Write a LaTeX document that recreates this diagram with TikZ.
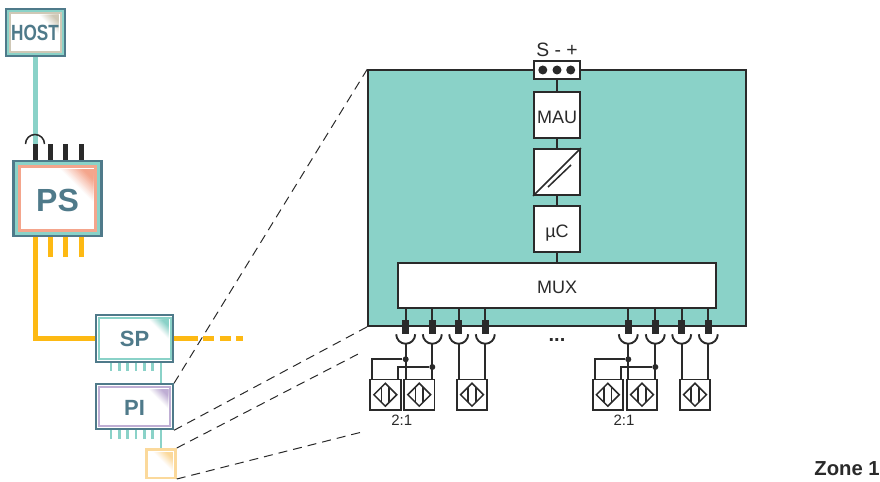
\documentclass[tikz,border=0pt]{standalone}
\usepackage{fontspec}
\setmainfont{Liberation Sans}
\usetikzlibrary{calc, positioning, shapes.geometric}
\definecolor{slate}{HTML}{4F7A8A}
\definecolor{tealfill}{HTML}{8AD2C8}
\definecolor{salmon}{HTML}{F4A58C}
\definecolor{busyellow}{HTML}{FDB913}
\definecolor{lilac}{HTML}{BFAED4}
\definecolor{paleorange}{HTML}{FBD99B}
\definecolor{beige}{HTML}{CFC8B6}
\definecolor{ink}{HTML}{2A2A2A}
\newcommand{\px}{0.75pt}
\newcommand{\cornerfade}[3]{%
  \foreach \s in {100,95,...,5} {
    \pgfmathsetmacro{\mixval}{min(100,1.5*(100-\s))}
    \fill[#3!\mixval!white] #1 -- ++(-#2*\s/100,0) -- ++(#2*\s/100,#2*\s/100) -- cycle;
  }
}
\tikzset{
  frame/.style={rectangle, inner sep=0pt, fill=white, line width=2*\px},
  block/.style={rectangle, draw=ink, fill=white, line width=1.9*\px, inner sep=0pt, text=ink,
    text height=12.7pt, text depth=0pt,
    minimum width=46*\px, minimum height=46*\px, font=\fontsize{13.5pt}{15pt}\selectfont},
  wire/.style={draw=ink, line width=1.9*\px},
  teal stub/.style={draw=tealfill, line width=2.6*\px},
  bus/.style={draw=busyellow, line width=5*\px},
  zoomline/.style={draw=ink, line width=1*\px, dash pattern=on 9*\px off 6*\px},
  jackport/.style={rectangle, fill=ink, inner sep=0pt, minimum width=7*\px, minimum height=14*\px},
  sensorbox/.style={rectangle, draw=ink, fill=white, line width=1.9*\px, inner sep=0pt,
    minimum width=30.5*\px, minimum height=30.5*\px},
  sensormark/.style={diamond, draw=ink, line width=1.5*\px, inner sep=0pt, minimum size=23.5*\px},
  joint/.style={circle, fill=ink, inner sep=0pt, minimum size=6*\px},
  logo/.style={text=slate, inner sep=0pt, font=\bfseries}
}

\begin{document}
\begin{tikzpicture}[x=0.75pt, y=-0.75pt]
\useasboundingbox (0,0) rectangle (880,481);

% Zoom lines behind everything
\node[rectangle, draw=ink, fill=tealfill, line width=1.5*\px, inner sep=0pt,
  minimum width=378*\px, minimum height=256*\px] (main) at (557,198) {};
\coordinate (freea) at (362,352);
\coordinate (freeb) at (362,432);

% Host
\node[frame, draw=slate, minimum width=59*\px, minimum height=47*\px] (host) at (35,32.5) {};
\node[frame, draw=tealfill, minimum width=55*\px, minimum height=43*\px] (hostb) at (host) {};
\node[frame, draw=beige, minimum width=51*\px, minimum height=39*\px] (hostc) at (host) {};
\cornerfade{($(hostc.north east)+(-3,3)$)}{20}{beige}
\node[logo, xscale=0.78, font=\bfseries\fontsize{16.5pt}{18pt}\selectfont] (hostlabel) at (35,33) {HOST};

% Power supply
\foreach \x [count=\i] in {35,50.7,65.7,81} {
  \coordinate (ptop\i) at (\x,144);
  \coordinate (pbot\i) at (\x,257);
}
\node[frame, draw=slate, line width=2.5*\px, minimum width=88*\px, minimum height=75*\px] (ps) at (57.5,198.3) {};
\node[frame, draw=tealfill, line width=3*\px, minimum width=82.5*\px, minimum height=69.5*\px] (psb) at (ps) {};
\node[frame, draw=salmon, line width=3*\px, minimum width=76.5*\px, minimum height=63.5*\px] (psc) at (ps) {};
\cornerfade{($(psc.north east)+(-4,4)$)}{34}{salmon}
\node[logo, font=\bfseries\fontsize{24pt}{26pt}\selectfont] (pslabel) at (57.5,200) {PS};
\draw[draw=tealfill, line width=5*\px] (host.south) -- (ptop1);
\foreach \i in {1,...,4} {
  \draw[draw=ink, line width=5*\px] (ptop\i) -- (ptop\i |- ps.north);
  \draw[bus] (pbot\i) -- (pbot\i |- ps.south);
}
\draw[wire, line width=1.5*\px] ($(ptop1)+(-9.5,0)$) arc[start angle=180, end angle=360, radius=9.5];

% SP, PI and the small box
\node[frame, draw=slate, minimum width=77*\px, minimum height=46.5*\px] (sp) at (134.5,338.3) {};
\node[frame, draw=tealfill, minimum width=72*\px, minimum height=41.5*\px] (spb) at (sp) {};
\cornerfade{($(spb.north east)+(-3,3)$)}{20}{tealfill}
\node[logo, font=\bfseries\fontsize{16.5pt}{18pt}\selectfont] (splabel) at (134.5,339) {SP};

\node[frame, draw=slate, minimum width=77*\px, minimum height=45*\px] (pi) at (134.5,406.8) {};
\node[frame, draw=lilac, minimum width=71*\px, minimum height=39*\px] (pib) at (pi) {};
\cornerfade{($(pib.north east)+(-3,3)$)}{20}{lilac}
\node[logo, font=\bfseries\fontsize{16.5pt}{18pt}\selectfont] (pilabel) at (134.5,407.5) {PI};

\node[frame, draw=paleorange, line width=2.5*\px, minimum width=29*\px, minimum height=28.5*\px] (field) at (161,463.5) {};
\cornerfade{($(field.north east)+(-4,4)$)}{20}{paleorange}

\foreach \x in {111,119.3,127.7,136,144.3,152.7} {
  \coordinate (sptap) at (\x,370.7);
  \coordinate (pitap) at (\x,439);
  \draw[teal stub] (sptap) -- (sptap |- sp.south);
  \draw[teal stub] (pitap) -- (pitap |- pi.south);
}
\draw[teal stub] (field.north |- sp.south) -- (field.north |- pi.north);
\draw[teal stub] (field.north |- pi.south) -- (field.north);

% Fieldbus
\coordinate (busend) at (243,338);
\draw[bus] (pbot1) |- (sp.west);
\draw[bus] (sp.east) -- ++(24,0);
\draw[bus, dash pattern=on 11*\px off 5.5*\px] (203,338) -- (busend);

\draw[zoomline] (pi.north east) -- (main.north west);
\draw[zoomline] (pi.south east) -- (main.south west);
\draw[zoomline] (field.north east) -- (freea);
\draw[zoomline] (field.south east) -- (freeb);

% Inside the module
\node[rectangle, draw=ink, fill=white, line width=1.9*\px, inner sep=0pt,
  minimum width=46*\px, minimum height=18*\px] (term) at (557,70) {};
\foreach \x [count=\i] in {-14.2,0,13.7}
  \node[circle, fill=ink, inner sep=0pt, minimum size=9*\px] (pin\i) at ($(term)+(\x,0)$) {};
\node[text=ink, inner sep=0pt, font=\fontsize{14.5pt}{16pt}\selectfont] (termlabel) at (557,49.5) {S - +};
\node[block] (mau) at (557,115.3) {MAU};
\node[block] (conv) at (557,172) {};
\node[block] (uc) at (557,228.8) {µC};
\node[block, minimum width=318*\px, minimum height=45*\px] (mux) at (557,285.5) {MUX};
\draw[wire] (term) -- (mau);
\draw[wire] (mau) -- (conv);
\draw[wire] (conv) -- (uc);
\draw[wire] (uc) -- (mux);
\draw[wire, line width=1.5*\px] (conv.south west) -- (conv.north east);
\draw[wire, line width=1.5*\px] ($(conv)+(-9,15)$) -- ($(conv)+(14,-7)$);

% Ports
\foreach \x [count=\i] in {405.7,432.3,458.7,485.3,628.3,655.3,681.7,708.3} {
  \node[jackport] (port\i) at (\x,327) {};
  \coordinate (jack\i) at ($(port\i.south)+(0,9.5)$);
  \draw[wire] (port\i) -- (port\i |- mux.south);
  \draw[wire] ($(port\i.south)+(-9.5,0)$) arc[start angle=180, end angle=0, radius=9.5];
}

% Sensors
\foreach \n/\x in {a/385.3,b/419.2,c/472,d/607.8,e/642,f/695} {
  \node[sensorbox] (sensor\n) at (\x,394.7) {};
  \node[sensormark] (mark\n) at (sensor\n) {};
  \draw[wire, line width=1.5*\px] ($(mark\n)+(-3.8,-7.4)$) -- ($(mark\n)+(-3.8,7.4)$);
  \draw[wire, line width=1.5*\px] ($(mark\n)+(3.8,-7.4)$) -- ($(mark\n)+(3.8,7.4)$);
}
\draw[wire] (jack1) -- (jack1 |- sensorb.north);
\draw[wire] (jack2) -- (jack2 |- sensorb.north);
\draw[wire] (jack3) -- (jack3 |- sensorc.north);
\draw[wire] (jack4) -- (jack4 |- sensorc.north);
\draw[wire] (jack5) -- (jack5 |- sensore.north);
\draw[wire] (jack6) -- (jack6 |- sensore.north);
\draw[wire] (jack7) -- (jack7 |- sensorf.north);
\draw[wire] (jack8) -- (jack8 |- sensorf.north);

% Two sensors on one port
\node[joint] (jointa) at (405.7,359.3) {};
\node[joint] (jointb) at (432.3,367) {};
\node[joint] (jointc) at (628.3,359.3) {};
\node[joint] (jointd) at (655.3,367) {};
\coordinate (dropa) at (371.7,379);
\coordinate (dropb) at (398.3,379);
\coordinate (dropc) at (594.7,379);
\coordinate (dropd) at (621,379);
\draw[wire] (jointa) -| (dropa);
\draw[wire] (jointb) -| (dropb);
\draw[wire] (jointc) -| (dropc);
\draw[wire] (jointd) -| (dropd);

\node[text=ink, inner sep=0pt, font=\fontsize{11.25pt}{13pt}\selectfont] (ratioa) at (401.7,420) {2:1};
\node[text=ink, inner sep=0pt, font=\fontsize{11.25pt}{13pt}\selectfont] (ratiob) at (624,420) {2:1};
\node[text=ink, inner sep=0pt, font=\bfseries\fontsize{15pt}{17pt}\selectfont] (more) at (557,340.5) {...};
\node[text=ink, inner sep=0pt, anchor=east, font=\bfseries\fontsize{15.2pt}{17pt}\selectfont] (zone) at (880,469) {Zone 1};
\end{tikzpicture}
\end{document}
